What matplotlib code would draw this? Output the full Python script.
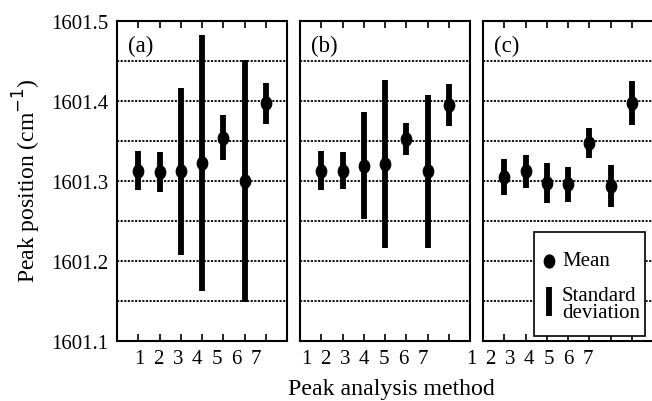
import matplotlib
matplotlib.use("Agg")
import matplotlib.pyplot as plt
from matplotlib.patches import Rectangle
from matplotlib.lines import Line2D
from matplotlib.path import Path
from matplotlib.transforms import Affine2D

plt.rcParams['font.family'] = ['Liberation Serif', 'DejaVu Serif']

methods = [1, 2, 3, 4, 5, 6, 7]
tick_labels = ['1', '2', '3', '4', '5', '6', '7']
panel_labels = ['(a)', '(b)', '(c)']

mean_a = [1601.313, 1601.311, 1601.312, 1601.322, 1601.354, 1601.300, 1601.397]
sd_a = [0.0245, 0.025, 0.104, 0.160, 0.028, 0.151, 0.026]
mean_b = [1601.313, 1601.313, 1601.319, 1601.321, 1601.3525, 1601.312, 1601.395]
sd_b = [0.0245, 0.023, 0.067, 0.105, 0.020, 0.096, 0.026]
mean_c = [1601.305, 1601.312, 1601.298, 1601.296, 1601.3475, 1601.294, 1601.3975]
sd_c = [0.0225, 0.0205, 0.025, 0.022, 0.019, 0.0265, 0.027]

y_ticks = [1601.1, 1601.2, 1601.3, 1601.4, 1601.5]
y_tick_labels = ['1601.1', '1601.2', '1601.3', '1601.4', '1601.5']
grid_levels = [1601.15, 1601.2, 1601.25, 1601.3, 1601.35, 1601.4, 1601.45]

ellipse = Path.unit_circle().transformed(Affine2D().scale(0.8, 1.0))

W, H = 652, 402
fig = plt.figure(figsize=(W / 100, H / 100), dpi=100)

lefts = [117, 300, 483]
axw = 170
bottom, top = 342, 22
label_starts = [139, 306, 471]
label_step = 19.4

means = [mean_a, mean_b, mean_c]
sds = [sd_a, sd_b, sd_c]

fs = 15
ms = 9.3
elw = 4.2
dots = (0, (1.2, 0.8))
for i in range(3):
    ax = fig.add_axes([lefts[i] / W, 1 - bottom / H, axw / W, (bottom - top) / H])
    ax.set_xlim(0, 8)
    ax.set_ylim(1601.1, 1601.5)
    for g in grid_levels:
        ax.axhline(g, color='black', lw=1.3, ls=dots, zorder=1)
    ax.errorbar(methods, means[i], yerr=sds[i], fmt='none', ecolor='black',
                elinewidth=elw, capsize=0, zorder=3)
    ax.plot(methods, means[i], ls='none', marker=ellipse, ms=ms, color='black',
            zorder=4)
    ax.set_xticks(methods)
    ax.set_xticklabels([])
    ax.tick_params(axis='x', direction='in', top=True, bottom=True, length=5,
                   width=1.2, color='black')
    for s in ['left', 'right', 'bottom', 'top']:
        ax.spines[s].set_linewidth(1.5)
    ax.spines['top'].set_linestyle(dots)
    if i == 0:
        ax.set_yticks(y_ticks)
        ax.set_yticklabels(y_tick_labels, fontsize=fs)
        ax.tick_params(axis='y', length=0, pad=6)
    else:
        ax.set_yticks([])
    ax.text(0.065, 0.925, panel_labels[i], transform=ax.transAxes, fontsize=16.5,
            ha='left', va='center')
    for k, lab in enumerate(tick_labels):
        fig.text((label_starts[i] + k * label_step) / W, 1 - 359.5 / H, lab,
                 fontsize=fs, ha='center', va='center')
    if i == 2:
        lx0, ly0, lx1, ly1 = 534, 233, 645, 337
        fig.patches.append(Rectangle((lx0 / W, 1 - ly1 / H), (lx1 - lx0) / W,
                                     (ly1 - ly0) / H, transform=fig.transFigure,
                                     facecolor='white', edgecolor='black', lw=1.2,
                                     zorder=5))
        fig.lines.append(Line2D([549 / W], [1 - 262 / H], marker=ellipse, ms=ms,
                                color='black', ls='none', transform=fig.transFigure,
                                zorder=6))
        fig.lines.append(Line2D([549 / W, 549 / W], [1 - 288 / H, 1 - 317 / H],
                                lw=elw, color='black', transform=fig.transFigure,
                                zorder=6, solid_capstyle='butt'))
        fig.text(562 / W, 1 - 262 / H, 'Mean', fontsize=fs, ha='left', va='center',
                 zorder=7)
        fig.text(562 / W, 1 - 305 / H, 'Standard\ndeviation', fontsize=fs,
                 ha='left', va='center', linespacing=0.88, zorder=7)

fig.text(27 / W, 1 - 181 / H, 'Peak position (cm$^{-1}$)', fontsize=17,
         rotation=90, ha='center', va='center')
fig.text(391 / W, 1 - 390 / H, 'Peak analysis method', fontsize=17.2,
         ha='center', va='center')

fig.savefig('out.png', dpi=100)
